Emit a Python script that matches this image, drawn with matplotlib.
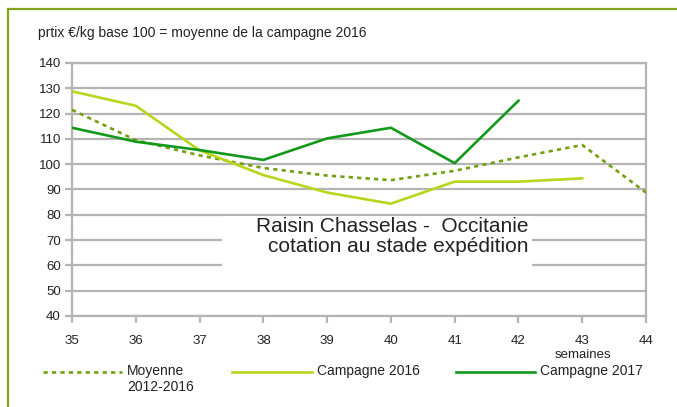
"""Raisin Chasselas price index chart (Occitanie)."""

import matplotlib

matplotlib.use("Agg")
import matplotlib.pyplot as plt
from matplotlib.lines import Line2D
from matplotlib.patches import Rectangle

plt.rcParams["font.family"] = ["Liberation Sans", "DejaVu Sans"]

WEEKS_MOY = [35, 36, 37, 38, 39, 40, 41, 42, 43, 44]
MOYENNE = [121.5, 109.5, 103.5, 98.5, 95.5, 93.7, 97.4, 102.7, 107.6, 88.8]

WEEKS_2016 = [35, 36, 37, 38, 39, 40, 41, 42, 43]
CAMPAGNE_2016 = [128.8, 123.1, 105.5, 95.7, 88.8, 84.4, 93.1, 93.1, 94.4]

WEEKS_2017 = [35, 36, 37, 38, 39, 40, 41, 42]
CAMPAGNE_2017 = [114.4, 108.9, 105.6, 101.7, 110.2, 114.4, 100.4, 125.1]

Y_TICKS = list(range(40, 141, 10))
X_TICKS = list(range(35, 45))

COL_MOY = "#72a012"
COL_2016 = "#bad51c"
COL_2017 = "#12991a"
GRID = "#b4b4b4"
FRAME = "#84a41c"
TEXT = "#222222"

fig = plt.figure(figsize=(6.77, 4.07), dpi=100)
W, H = 677, 407


def fx(px):
    return px / W


def fy(py):
    return 1 - py / H


ax = fig.add_axes([fx(72), fy(316), fx(646) - fx(72), fy(63) - fy(316)])

ax.plot(WEEKS_MOY, MOYENNE, color=COL_MOY, lw=1.9, dashes=(1.6, 1.6), zorder=3)
ax.plot(WEEKS_2016, CAMPAGNE_2016, color=COL_2016, lw=1.9, zorder=3)
ax.plot(WEEKS_2017, CAMPAGNE_2017, color=COL_2017, lw=1.9, zorder=4)

ax.set_xlim(35, 44)
ax.set_ylim(40, 140)
ax.set_xticks(X_TICKS)
ax.set_yticks(Y_TICKS)
ax.yaxis.grid(True, color=GRID, lw=1.6)
ax.set_axisbelow(True)
for side in ["left", "bottom", "right", "top"]:
    ax.spines[side].set_color(GRID)
    ax.spines[side].set_linewidth(1.6)
ax.tick_params(axis="both", colors=GRID, length=5, width=1.6,
               labelcolor=TEXT, labelsize=9.5)
ax.tick_params(axis="x", pad=9)
ax.tick_params(axis="y", pad=3)

# olive frame top and left
fig.add_artist(Line2D([fx(8), 1.0], [fy(9), fy(9)], color=FRAME, lw=1.6))
fig.add_artist(Line2D([fx(8), fx(8)], [fy(9), 0.0], color=FRAME, lw=1.6))

fig.text(fx(38), fy(33), "prtix €/kg base 100 = moyenne de la campagne 2016",
         fontsize=10, color=TEXT, va="center", ha="left")
fig.text(fx(583), fy(355), "semaines", fontsize=9.5, color=TEXT,
         va="center", ha="center")

# white label box covering the grid
fig.add_artist(Rectangle((fx(222), fy(270)), fx(532) - fx(222), fy(216) - fy(270),
                         transform=fig.transFigure, facecolor="white",
                         edgecolor="none", zorder=5))
fig.text(fx(528), fy(227), "Raisin Chasselas -  Occitanie", fontsize=15,
         color=TEXT, ha="right", va="center", zorder=6)
fig.text(fx(528), fy(246), "cotation au stade expédition", fontsize=15,
         color=TEXT, ha="right", va="center", zorder=6)

# legend
legend_items = [
    (43, 122, COL_MOY, (1.6, 1.6), "Moyenne\n2012-2016"),
    (232, 312, COL_2016, None, "Campagne 2016"),
    (456, 535, COL_2017, None, "Campagne 2017"),
]
for x0, x1, col, dash, label in legend_items:
    line = Line2D([fx(x0), fx(x1)], [fy(372), fy(372)], color=col, lw=1.9)
    if dash:
        line.set_dashes(dash)
    fig.add_artist(line)
    fig.text(fx(x1 + 5), fy(364), label, fontsize=10, color=TEXT,
             ha="left", va="top", linespacing=1.15)

fig.savefig("out.png", dpi=100)
